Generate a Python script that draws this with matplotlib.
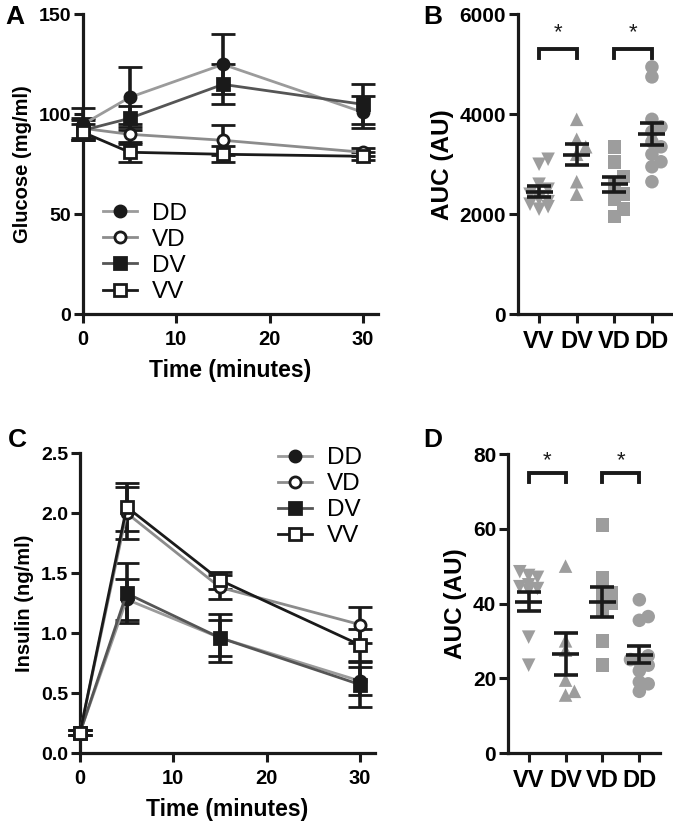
import numpy as np
import matplotlib
matplotlib.use('Agg')
import matplotlib.pyplot as plt

plt.rcParams['font.family'] = ['Liberation Sans', 'DejaVu Sans']

# ---------------- data ----------------
time_min = [0, 5, 15, 30]
line_groups = ['DD', 'VD', 'DV', 'VV']

glucose_DD = [95, 108.5, 125, 101]
glucose_VD = [93, 90, 87, 81]
glucose_DV = [92, 98, 115, 105]
glucose_VV = [91, 81, 80, 79]
glucose_DD_err = [8, 15, 15, 8]
glucose_VD_err = [5, 5, 7.5, 2]
glucose_DV_err = [5, 6, 10, 10]
glucose_VV_err = [4, 5, 4, 2]

insulin_DD = [0.17, 1.28, 0.96, 0.60]
insulin_VD = [0.17, 2.00, 1.38, 1.07]
insulin_DV = [0.17, 1.33, 0.96, 0.57]
insulin_VV = [0.17, 2.05, 1.44, 0.90]
insulin_DD_err = [0.02, 0.17, 0.15, 0.12]
insulin_VD_err = [0.02, 0.22, 0.10, 0.15]
insulin_DV_err = [0.02, 0.25, 0.20, 0.19]
insulin_VV_err = [0.02, 0.20, 0.07, 0.13]

auc_groups = ['VV', 'DV', 'VD', 'DD']
auc_glu_VV = [3000, 3100, 2600, 2500, 2400, 2350, 2300, 2250, 2200, 2150, 2100]
auc_glu_DV = [3900, 3500, 3350, 3200, 2650, 2400]
auc_glu_VD = [3350, 3050, 2750, 2600, 2400, 2300, 2100, 1950]
auc_glu_DD = [4950, 4750, 3900, 3750, 3650, 3450, 3350, 3200, 3050, 2950, 2650]
auc_glu_mean = [2450, 3190, 2600, 3610]
auc_glu_sem = [110, 215, 150, 220]

auc_ins_VV = [48.5, 47.5, 47, 45, 44.5, 44, 43.5, 31, 23.5]
auc_ins_DV = [50, 30, 27.5, 19.5, 16.5, 15.5]
auc_ins_VD = [61, 47, 44, 43, 41.5, 40, 38.5, 30, 23.5]
auc_ins_DD = [41, 36.5, 35.5, 26, 25, 24.5, 23.5, 22, 19, 18.5, 16.5]
auc_ins_mean = [40.5, 26.5, 40.5, 26.3]
auc_ins_sem = [2.5, 5.5, 4.0, 2.3]

# ---------------- styles ----------------
line_color = {'DD': '#9b9b9b', 'VD': '#8c8c8c', 'DV': '#555555', 'VV': '#1a1a1a'}
line_marker = {'DD': 'o', 'VD': 'o', 'DV': 's', 'VV': 's'}
line_face = {'DD': '#1a1a1a', 'VD': 'white', 'DV': '#1a1a1a', 'VV': 'white'}
auc_marker = {'VV': 'v', 'DV': '^', 'VD': 's', 'DD': 'o'}
pt_gray = '#9d9d9d'
ink = '#1a1a1a'

W, H = 673, 830
fig = plt.figure(figsize=(W / 100, H / 100), dpi=100)


def px_axes(l, t, r, b):
    return fig.add_axes([l / W, 1 - b / H, (r - l) / W, (b - t) / H])


def style_axes(ax, xsize, ysize):
    for s in ['top', 'right']:
        ax.spines[s].set_visible(False)
    for s in ['left', 'bottom']:
        ax.spines[s].set_linewidth(2.3)
        ax.spines[s].set_color(ink)
    ax.tick_params(width=2.2, length=6.5, color=ink)
    ax.tick_params(axis='x', labelsize=xsize, pad=5)
    ax.tick_params(axis='y', labelsize=ysize, pad=2)
    for lab in ax.get_xticklabels() + ax.get_yticklabels():
        lab.set_fontweight('bold')


def time_panel(ax, means, errs, ylim, yticks, ylabel, fmt):
    for g in line_groups:
        ax.errorbar(time_min, means[g], yerr=errs[g], color=line_color[g], lw=2,
                    marker=line_marker[g], ms=8, mfc=line_face[g], mec=ink, mew=2,
                    ecolor=ink, elinewidth=2.6, capsize=8.5, capthick=2.6, label=g,
                    clip_on=False, zorder=3)
    ax.set_xlim(0, 31.6)
    ax.set_ylim(*ylim)
    ax.set_xticks([0, 10, 20, 30])
    ax.set_yticks(yticks)
    ax.set_yticklabels([fmt.format(v) for v in yticks])
    ax.set_xlabel('Time (minutes)', fontsize=16.5, fontweight='bold', labelpad=7)
    ax.set_ylabel(ylabel, fontsize=14.5, fontweight='bold', labelpad=5)
    style_axes(ax, 14.5, 14)


def swarm_offsets(ax, vals, width_px=9.0, step=0.12, maxoff=0.32):
    placed = []
    offs = np.zeros(len(vals))
    order = np.argsort(vals)
    for i in order:
        cands = [0]
        k = 1
        while k * step <= maxoff + 1e-9:
            cands += [k * step, -k * step]
            k += 1
        best = None
        for c in cands:
            p = ax.transData.transform((c, vals[i]))
            if all(np.hypot(*(p - q)) >= width_px for q in placed):
                best = c
                break
        if best is None:
            best = cands[len(placed) % len(cands)]
        offs[i] = best
        placed.append(ax.transData.transform((best, vals[i])))
    return offs


def auc_panel(ax, data, means, sems, ylim, yticks, bracket_y, leg_y, star_y):
    ax.set_xlim(-0.56, 3.56)
    ax.set_ylim(*ylim)
    for i, g in enumerate(auc_groups):
        vals = np.array(data[g], dtype=float)
        offs = swarm_offsets(ax, vals)
        ax.scatter(i + offs, vals, marker=auc_marker[g], s=95, color=pt_gray,
                   edgecolors='none', zorder=2)
    ax.hlines(means, np.arange(4) - 0.36, np.arange(4) + 0.36, color=ink, lw=2.6, zorder=4)
    ax.errorbar(np.arange(4), means, yerr=sems, fmt='none', ecolor=ink,
                elinewidth=2.6, capsize=8.5, capthick=2.6, zorder=4)
    for a, b in [(0, 1), (2, 3)]:
        ax.plot([a, a, b, b], [leg_y, bracket_y, bracket_y, leg_y], color=ink,
                lw=2.8, solid_joinstyle='miter', clip_on=False)
        ax.text((a + b) / 2, star_y, '*', ha='center', va='center', fontsize=16, color=ink)
    ax.set_xticks(range(4))
    ax.set_xticklabels(auc_groups)
    ax.set_yticks(yticks)
    ax.set_ylabel('AUC (AU)', fontsize=17.5, fontweight='bold', labelpad=4)
    style_axes(ax, 17, 15)


def add_legend(ax, anchor):
    handles, labels = ax.get_legend_handles_labels()
    ax.legend([h[0] for h in handles], labels, loc='upper left',
              bbox_to_anchor=anchor, frameon=False, fontsize=17.5,
              handlelength=1.4, handletextpad=0.6, labelspacing=0.17, borderpad=0,
              borderaxespad=0)


# ---------------- Panel A ----------------
axA = px_axes(83, 14.5, 378, 314)
time_panel(axA,
           {'DD': glucose_DD, 'VD': glucose_VD, 'DV': glucose_DV, 'VV': glucose_VV},
           {'DD': glucose_DD_err, 'VD': glucose_VD_err, 'DV': glucose_DV_err, 'VV': glucose_VV_err},
           (0, 150), [0, 50, 100, 150], 'Glucose (mg/ml)', '{:g}')
add_legend(axA, (0.068, 0.372))

# ---------------- Panel B ----------------
axB = px_axes(518, 14.5, 673, 314)
fig.canvas.draw()
auc_panel(axB, {'VV': auc_glu_VV, 'DV': auc_glu_DV, 'VD': auc_glu_VD, 'DD': auc_glu_DD},
          auc_glu_mean, auc_glu_sem, (0, 6000), [0, 2000, 4000, 6000], 5300, 5120, 5640)

# ---------------- Panel C ----------------
axC = px_axes(80, 453, 375, 753)
time_panel(axC,
           {'DD': insulin_DD, 'VD': insulin_VD, 'DV': insulin_DV, 'VV': insulin_VV},
           {'DD': insulin_DD_err, 'VD': insulin_VD_err, 'DV': insulin_DV_err, 'VV': insulin_VV_err},
           (0, 2.5), [0, 0.5, 1.0, 1.5, 2.0, 2.5], 'Insulin (ng/ml)', '{:.1f}')
add_legend(axC, (0.672, 1.02))

# ---------------- Panel D ----------------
axD = px_axes(508, 454, 660, 753)
auc_panel(axD, {'VV': auc_ins_VV, 'DV': auc_ins_DV, 'VD': auc_ins_VD, 'DD': auc_ins_DD},
          auc_ins_mean, auc_ins_sem, (0, 80), [0, 20, 40, 60, 80], 75, 72.5, 78.3)

# ---------------- panel letters ----------------
for lab, x, y in [('A', 15, 17), ('B', 433, 17), ('C', 17, 440), ('D', 433, 440)]:
    fig.text(x / W, 1 - y / H, lab, fontsize=19, fontweight='bold', ha='center', va='center')

fig.savefig('out.png', dpi=100)
